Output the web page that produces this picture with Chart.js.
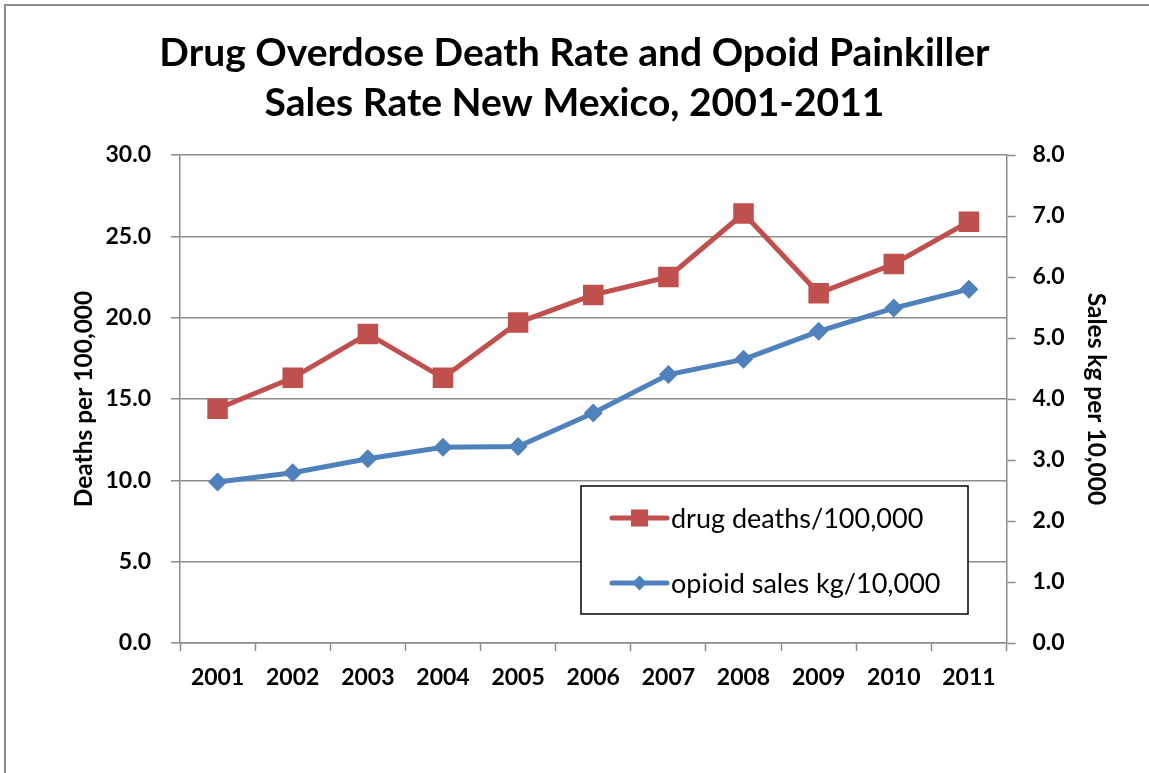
<!DOCTYPE html>
<html>
<head>
<meta charset="utf-8">
<script src="https://cdn.jsdelivr.net/npm/chart.js@4.4.1/dist/chart.umd.min.js"></script>
<style>
  html, body { margin: 0; padding: 0; background: #ffffff; overflow: hidden; }
  canvas { display: block; }
</style>
</head>
<body>
<canvas id="chart" width="1149" height="773"></canvas>
<script>
// Years on the category axis
const years = ['2001', '2002', '2003', '2004', '2005', '2006', '2007', '2008', '2009', '2010', '2011'];
// Drug overdose deaths per 100,000 population (left axis)
const drugDeaths = [14.4, 16.3, 19.0, 16.3, 19.7, 21.4, 22.5, 26.4, 21.5, 23.3, 25.9];
// Opioid painkiller sales, kg per 10,000 population (right axis)
const opioidSales = [2.64, 2.79, 3.02, 3.21, 3.22, 3.77, 4.40, 4.65, 5.11, 5.49, 5.80];

const titleLines = ['Drug Overdose Death Rate and Opoid Painkiller', 'Sales Rate New Mexico, 2001-2011'];
const seriesNames = ['drug deaths/100,000', 'opioid sales kg/10,000'];

const RED = '#C0504D';
const BLUE = '#4F81BD';
const GRID = '#8c8c8c';
const FONT = 'Lato, "Open Sans", sans-serif';

// Outer frame of the chart object
const framePlugin = {
  id: 'frame',
  beforeDraw(chart) {
    const ctx = chart.ctx;
    ctx.save();
    ctx.fillStyle = '#ffffff';
    ctx.fillRect(0, 0, chart.width, chart.height);
    ctx.strokeStyle = '#8a8a8a';
    ctx.lineWidth = 2;
    ctx.beginPath();
    ctx.moveTo(5, chart.height);
    ctx.lineTo(5, 5);
    ctx.lineTo(chart.width, 5);
    ctx.stroke();
    ctx.restore();
  }
};

// Boxed legend placed inside the plot area
const boxLegendPlugin = {
  id: 'boxLegend',
  afterDraw(chart) {
    const ctx = chart.ctx;
    const box = { x: 581, y: 486, w: 387, h: 128 };
    ctx.save();
    ctx.fillStyle = '#ffffff';
    ctx.fillRect(box.x, box.y, box.w, box.h);
    ctx.strokeStyle = '#000000';
    ctx.lineWidth = 1.5;
    ctx.strokeRect(box.x, box.y, box.w, box.h);

    const rows = [box.y + 32, box.y + 97];
    chart.data.datasets.forEach((ds, i) => {
      const y = rows[i];
      const x0 = box.x + 31, x1 = box.x + 86, cx = (x0 + x1) / 2;
      ctx.strokeStyle = ds.borderColor;
      ctx.lineWidth = 5;
      ctx.lineCap = 'round';
      ctx.beginPath();
      ctx.moveTo(x0, y);
      ctx.lineTo(x1, y);
      ctx.stroke();
      ctx.fillStyle = ds.backgroundColor;
      if (ds.pointStyle === 'rect') {
        ctx.fillRect(cx - 8.5, y - 8.5, 17, 17);
      } else {
        const r = 7.5;
        ctx.beginPath();
        ctx.moveTo(cx, y - r);
        ctx.lineTo(cx + r, y);
        ctx.lineTo(cx, y + r);
        ctx.lineTo(cx - r, y);
        ctx.closePath();
        ctx.fill();
      }
      ctx.fillStyle = '#000000';
      ctx.font = '27px ' + FONT;
      ctx.textAlign = 'left';
      ctx.textBaseline = 'middle';
      ctx.fillText(ds.label, x1 + 4, y + 1);
    });
    ctx.restore();
  }
};

new Chart(document.getElementById('chart'), {
  type: 'line',
  data: {
    labels: years,
    datasets: [
      {
        label: seriesNames[0],
        data: drugDeaths,
        yAxisID: 'y',
        borderColor: RED,
        backgroundColor: RED,
        borderWidth: 5,
        pointStyle: 'rect',
        pointRadius: 14.5,
        pointBorderWidth: 0,
        tension: 0
      },
      {
        label: seriesNames[1],
        data: opioidSales,
        yAxisID: 'y1',
        borderColor: BLUE,
        backgroundColor: BLUE,
        borderWidth: 5,
        pointStyle: 'rectRot',
        pointRadius: 9.5,
        pointBorderWidth: 0,
        tension: 0
      }
    ]
  },
  options: {
    responsive: false,
    animation: false,
    layout: { padding: 0 },
    plugins: {
      legend: { display: false },
      tooltip: { enabled: false },
      title: {
        display: true,
        text: titleLines,
        color: '#000000',
        font: { family: FONT, size: 39, weight: 'bold', lineHeight: 50 / 39 },
        padding: { top: 28, bottom: 27 }
      }
    },
    scales: {
      x: {
        type: 'category',
        offset: true,
        afterFit(scale) { scale.height = 130; },
        grid: {
          offset: true,
          drawOnChartArea: false,
          drawTicks: true,
          tickLength: 8,
          tickColor: GRID,
          tickWidth: 1.5
        },
        border: { color: GRID, width: 1.5 },
        ticks: {
          color: '#000000',
          font: { family: FONT, size: 23, weight: 'bold' },
          padding: 13,
          maxRotation: 0,
          autoSkip: false
        }
      },
      y: {
        type: 'linear',
        position: 'left',
        min: 0,
        max: 30,
        afterFit(scale) { scale.width = 180; },
        grid: {
          color: GRID,
          lineWidth: 1.5,
          drawTicks: true,
          tickLength: 9,
          tickColor: GRID
        },
        border: { color: GRID, width: 1.5 },
        ticks: {
          stepSize: 5,
          color: '#000000',
          font: { family: FONT, size: 23, weight: 'bold' },
          padding: 20,
          callback: v => Number(v).toFixed(1)
        },
        title: {
          display: true,
          text: 'Deaths per 100,000',
          color: '#000000',
          font: { family: FONT, size: 24.5, weight: 'bold', lineHeight: 1.2 },
          padding: { top: 69, bottom: 0 }
        }
      },
      y1: {
        type: 'linear',
        position: 'right',
        min: 0,
        max: 8,
        afterFit(scale) { scale.width = 142.5; },
        grid: {
          drawOnChartArea: false,
          drawTicks: true,
          tickLength: 9,
          tickColor: GRID,
          tickWidth: 1.5
        },
        border: { color: GRID, width: 1.5 },
        ticks: {
          stepSize: 1,
          color: '#000000',
          font: { family: FONT, size: 23, weight: 'bold' },
          padding: 17,
          callback: v => Number(v).toFixed(1)
        },
        title: {
          display: true,
          text: 'Sales kg per 10,000',
          color: '#000000',
          font: { family: FONT, size: 24.5, weight: 'bold', lineHeight: 1.2 },
          padding: { top: 38, bottom: 0 }
        }
      }
    }
  },
  plugins: [framePlugin, boxLegendPlugin]
});
</script>
</body>
</html>
